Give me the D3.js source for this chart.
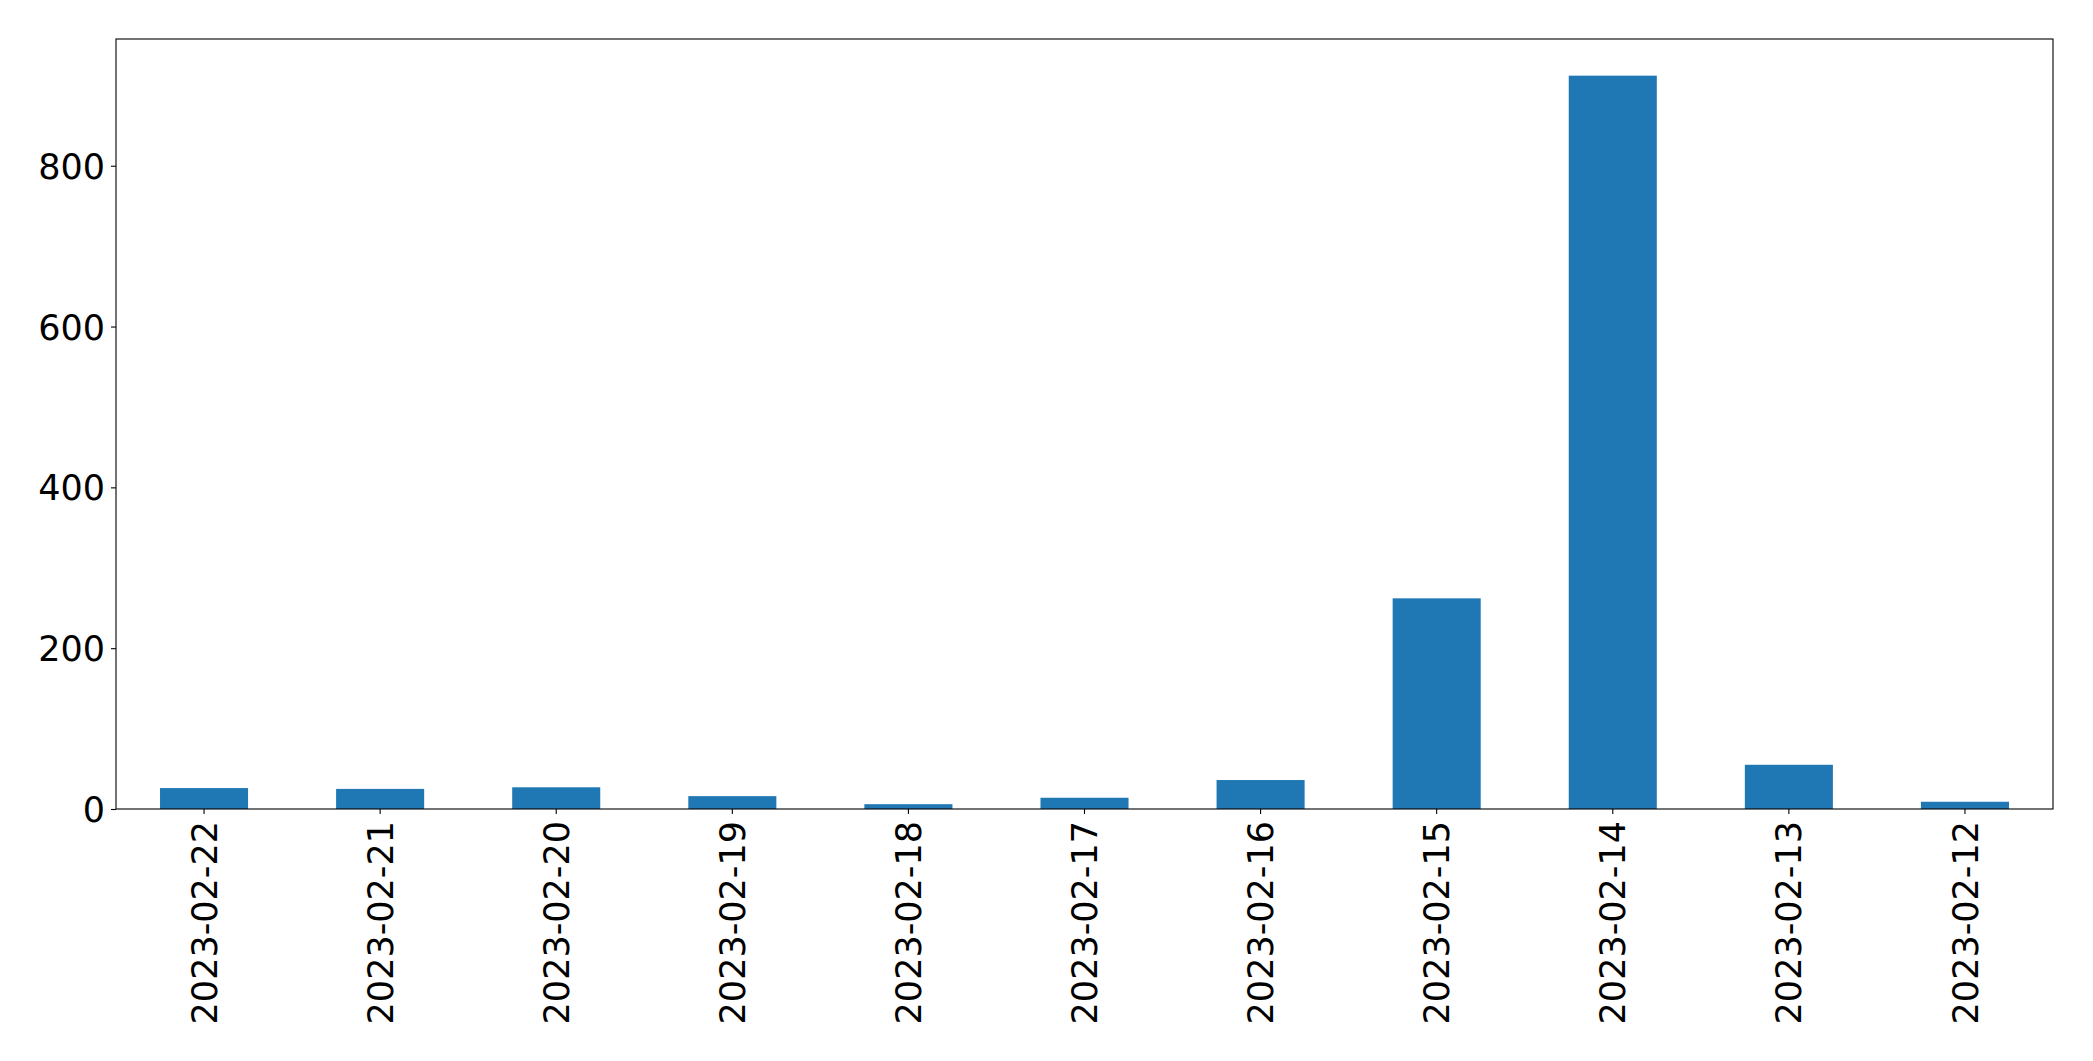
<!DOCTYPE html>
<html>
<head>
<meta charset="utf-8">
<script src="https://cdn.jsdelivr.net/npm/d3@7"></script>
<style>
  html, body { margin: 0; padding: 0; background: #fff; }
  svg { display: block; }
  text { font-family: "DejaVu Sans", sans-serif; fill: #000; }
</style>
</head>
<body>
<svg id="chart" width="2093" height="1061"></svg>
<script>
const categories = ["2023-02-22","2023-02-21","2023-02-20","2023-02-19","2023-02-18","2023-02-17","2023-02-16","2023-02-15","2023-02-14","2023-02-13","2023-02-12"];
const values = [26, 25, 27, 16, 6, 14, 36, 262, 912, 55, 9];
const yTicks = [0, 200, 400, 600, 800];

const W = 2093, H = 1061;
const margin = { left: 116, right: 40, top: 39, bottom: 252 };
const iw = W - margin.left - margin.right;
const ih = H - margin.top - margin.bottom;

const svg = d3.select("#chart");
const g = svg.append("g").attr("transform", `translate(${margin.left},${margin.top})`);

const x = d3.scaleBand().domain(categories).range([0, iw]).paddingInner(0.5).paddingOuter(0.25);
const y = d3.scaleLinear().domain([0, d3.max(values) * 1.05]).range([ih, 0]);

g.selectAll("rect.bar").data(values).join("rect")
  .attr("class", "bar")
  .attr("x", (d, i) => x(categories[i]))
  .attr("width", x.bandwidth())
  .attr("y", d => y(d))
  .attr("height", d => ih - y(d))
  .attr("fill", "#1f77b4");

const fs = "35px";

const yAxis = g.append("g").call(d3.axisLeft(y).tickValues(yTicks).tickSize(5).tickPadding(6).tickFormat(d3.format("d")));
yAxis.select(".domain").remove();
yAxis.selectAll("line").attr("stroke", "#000").attr("stroke-width", 1.1);
yAxis.selectAll("text").style("font-size", fs).attr("font-family", "DejaVu Sans").attr("dy", "0.36em");

const xAxis = g.append("g").attr("transform", `translate(0,${ih})`)
  .call(d3.axisBottom(x).tickSize(5).tickPadding(5));
xAxis.select(".domain").remove();
xAxis.selectAll("line").attr("stroke", "#000").attr("stroke-width", 1.1);
xAxis.selectAll("text")
  .style("font-size", fs)
  .attr("font-family", "DejaVu Sans")
  .attr("transform", "rotate(-90)")
  .attr("text-anchor", "end")
  .attr("x", -12)
  .attr("y", 0)
  .attr("dy", "0.36em");

// frame
g.append("rect").attr("x", 0).attr("y", 0).attr("width", iw).attr("height", ih)
  .attr("fill", "none").attr("stroke", "#000").attr("stroke-width", 1.1);
</script>
</body>
</html>
